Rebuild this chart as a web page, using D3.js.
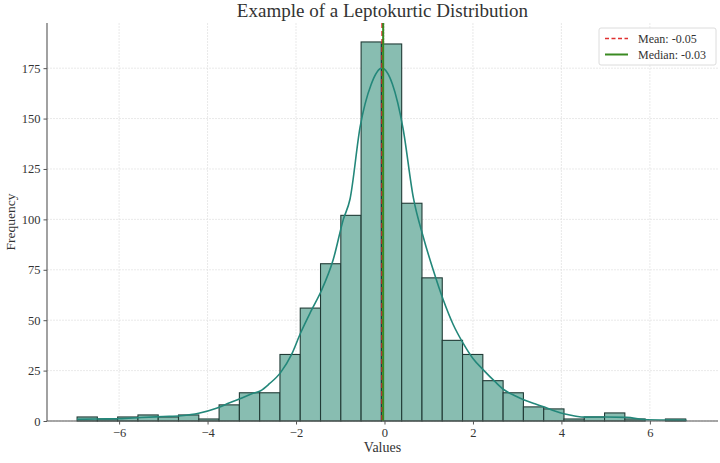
<!DOCTYPE html>
<html>
<head>
<meta charset="utf-8">
<script src="https://cdn.jsdelivr.net/npm/d3@7"></script>
<style>
  html, body { margin: 0; padding: 0; background: #fff; }
  svg text { font-family: "Liberation Serif", "DejaVu Serif", serif; }
</style>
</head>
<body>
<svg id="chart" width="720" height="463"></svg>
<script>
// histogram: 30 equal bins between the sample min and max
var binMin = -6.95;
var binMax = 6.81;
var counts = [2, 1, 2, 3, 2, 3, 1, 8, 14, 14,
              33, 56, 78, 102, 188, 187, 108, 71, 40, 33,
              20, 14, 7, 6, 1, 2, 4, 1, 0, 1];

// kde curve (value, frequency)
var kdeX = [-6.95, -6.5, -6.0, -5.5, -5.0, -4.6, -4.2, -3.8, -3.5, -3.27,
            -3.0, -2.8, -2.6, -2.35, -2.1, -1.9, -1.65, -1.42, -1.16, -0.93,
            -0.78, -0.55, -0.3, -0.06, 0.18, 0.42, 0.65, 0.88, 1.1, 1.33,
            1.55, 1.78, 2.0, 2.25, 2.5, 2.7, 2.95, 3.16, 3.4, 3.63,
            3.85, 4.08, 4.3, 4.53, 5.0, 5.47, 5.93, 6.38, 6.83];
var kdeY = [0.8, 1.0, 1.1, 1.7, 2.2, 2.6, 3.8, 6.3, 9, 11,
            13.5, 15, 18.5, 24, 33, 43.5, 55, 65, 80, 100,
            110, 146, 167, 175, 167, 145, 111, 91, 75, 60,
            48, 38.5, 31, 25, 19.5, 15.5, 12.5, 10.4, 8.5, 6.8,
            5, 3.5, 2.5, 1.9, 2, 1.8, 0.6, 0.5, 0.4];

var meanValue = -0.05;
var medianValue = -0.03;

var xTicks = [-6, -4, -2, 0, 2, 4, 6];
var yTicks = [0, 25, 50, 75, 100, 125, 150, 175];

var titleText = 'Example of a Leptokurtic Distribution';
var xLabel = 'Values';
var yLabel = 'Frequency';

/**
 * draw everything.
 */
(function() {

    var svg = d3.select('#chart');
    var left = 47, right = 718, top = 23, bottom = 421;

    var x = d3.scaleLinear().domain([-7.63, 7.54]).range([left, right]);
    var y = d3.scaleLinear().domain([0, 197.4]).range([bottom, top]);

    // grid lines
    var grid = svg.append('g').attr('class', 'grid');
    grid.selectAll('line.gx').data(xTicks).enter().append('line')
        .attr('x1', function(d) { return x(d); })
        .attr('x2', function(d) { return x(d); })
        .attr('y1', top).attr('y2', bottom)
        .attr('stroke', '#e3e3e3').attr('stroke-width', 0.8)
        .attr('stroke-dasharray', '2,1');
    grid.selectAll('line.gy').data(yTicks).enter().append('line')
        .attr('x1', left).attr('x2', right)
        .attr('y1', function(d) { return y(d); })
        .attr('y2', function(d) { return y(d); })
        .attr('stroke', '#e3e3e3').attr('stroke-width', 0.8)
        .attr('stroke-dasharray', '2,1');

    // bars
    var w = (binMax - binMin) / counts.length;
    svg.append('g').selectAll('rect').data(counts).enter().append('rect')
        .attr('x', function(d, i) { return x(binMin + i * w); })
        .attr('y', function(d) { return y(d); })
        .attr('width', function(d, i) { return x(binMin + (i + 1) * w) - x(binMin + i * w); })
        .attr('height', function(d) { return y(0) - y(d); })
        .attr('fill', '#88bdb1')
        .attr('stroke', '#213b36')
        .attr('stroke-width', 1.1);

    // kde line
    var pts = kdeX.map(function(v, i) { return [v, kdeY[i]]; });
    var line = d3.line()
        .x(function(d) { return x(d[0]); })
        .y(function(d) { return y(d[1]); })
        .curve(d3.curveMonotoneX);
    svg.append('path').datum(pts)
        .attr('d', line)
        .attr('fill', 'none')
        .attr('stroke', '#23877a')
        .attr('stroke-width', 1.6);

    // mean first, median drawn on top of it
    svg.append('line')
        .attr('x1', x(meanValue)).attr('x2', x(meanValue))
        .attr('y1', top).attr('y2', bottom)
        .attr('stroke', '#e03030').attr('stroke-width', 2)
        .attr('stroke-dasharray', '5,3');
    svg.append('line')
        .attr('x1', x(medianValue)).attr('x2', x(medianValue))
        .attr('y1', top).attr('y2', bottom)
        .attr('stroke', '#3a8a22').attr('stroke-width', 2);

    // axes
    var fmt = function(d) { return d < 0 ? '\u2212' + Math.abs(d) : String(d); };
    var xAxis = svg.append('g')
        .attr('transform', 'translate(0,' + bottom + ')')
        .call(d3.axisBottom(x).tickValues(xTicks).tickFormat(fmt).tickSize(3.5).tickPadding(4));
    var yAxis = svg.append('g')
        .attr('transform', 'translate(' + left + ',0)')
        .call(d3.axisLeft(y).tickValues(yTicks).tickFormat(fmt).tickSize(3.5).tickPadding(3));
    [xAxis, yAxis].forEach(function(a) {
        a.select('.domain').attr('stroke', '#555').attr('stroke-width', 1.1);
        a.selectAll('.tick line').attr('stroke', '#555');
        a.selectAll('.tick text')
            .attr('fill', '#333')
            .style('font-size', '12.5px')
            .style('font-family', '"Liberation Serif", serif');
    });
    xAxis.select('.domain').attr('d', 'M' + left + ',0H' + right);
    yAxis.select('.domain').attr('d', 'M0,' + bottom + 'V' + top);

    // title and labels
    svg.append('text')
        .attr('x', (left + right) / 2).attr('y', 17)
        .attr('text-anchor', 'middle')
        .attr('fill', '#333')
        .style('font-size', '19px')
        .text(titleText);
    svg.append('text')
        .attr('x', (left + right) / 2).attr('y', 452)
        .attr('text-anchor', 'middle')
        .attr('fill', '#333')
        .style('font-size', '14px')
        .text(xLabel);
    svg.append('text')
        .attr('transform', 'translate(15,' + (top + bottom) / 2 + ') rotate(-90)')
        .attr('text-anchor', 'middle')
        .attr('fill', '#333')
        .style('font-size', '13.5px')
        .text(yLabel);

    // legend
    var lg = svg.append('g').attr('transform', 'translate(599,28)');
    lg.append('rect')
        .attr('width', 117).attr('height', 37)
        .attr('rx', 2)
        .attr('fill', '#fff').attr('fill-opacity', 0.85)
        .attr('stroke', '#dcdcdc');
    var entries = [
        {label: 'Mean: ' + meanValue.toFixed(2), color: '#e03030', dash: '4,2.5', width: 1.6},
        {label: 'Median: ' + medianValue.toFixed(2), color: '#3a8a22', dash: null, width: 2}
    ];
    entries.forEach(function(e, i) {
        var yy = 10.5 + i * 16;
        lg.append('line')
            .attr('x1', 6).attr('x2', 29)
            .attr('y1', yy).attr('y2', yy)
            .attr('stroke', e.color).attr('stroke-width', e.width)
            .attr('stroke-dasharray', e.dash);
        lg.append('text')
            .attr('x', 39).attr('y', yy + 4)
            .attr('fill', '#333')
            .style('font-size', '12px')
            .text(e.label);
    });
})();
</script>
</body>
</html>
